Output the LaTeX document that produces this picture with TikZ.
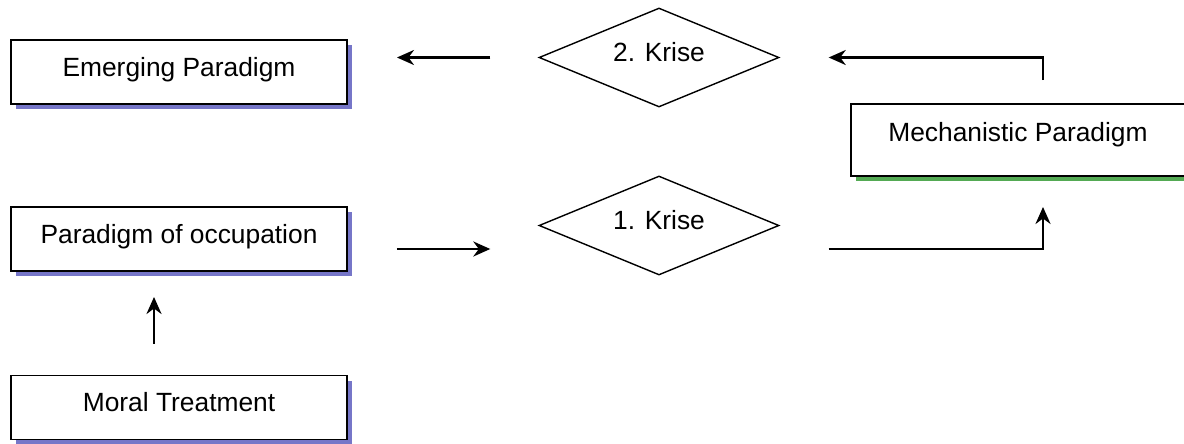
\documentclass[tikz,border=0pt]{standalone}
\usepackage{fontspec}
\setmainfont{Liberation Sans}
\usepackage{xcolor}
\usetikzlibrary{arrows.meta,shapes.geometric}

\definecolor{shadowblue}{RGB}{118,118,200}
\definecolor{shadowgreen}{RGB}{84,170,84}

\tikzset{
    paradigm/.style={draw, line width=1.1pt, fill=white, inner sep=0pt,
        minimum width=6.72cm, minimum height=1.28cm,
        text height=11pt, text depth=5.9pt},
    blueshadow/.style={preaction={fill=shadowblue, transform canvas={xshift=0.1cm, yshift=-0.1cm}}},
    greenshadow/.style={preaction={fill=shadowgreen, transform canvas={xshift=0.1cm, yshift=-0.1cm}}},
    krise/.style={draw, diamond, aspect=2.4, line width=0.8pt, inner sep=0pt,
        minimum width=4.8cm, minimum height=1.98cm,
        text height=11pt, text depth=5.9pt},
    arr/.style={-{Stealth[length=0.34cm, width=0.3cm]}, line width=1.5pt}
}

\begin{document}
\begin{tikzpicture}[font=\fontsize{15}{18}\selectfont]
            \useasboundingbox (0, 0) rectangle (23.68, -8.86);

            \node[paradigm, blueshadow] (emerging) at (3.58, -1.44) {Emerging Paradigm};
            \node[paradigm, blueshadow] (occupation) at (3.58, -4.78) {Paradigm of occupation};
            \node[paradigm, blueshadow] (moral) at (3.58, -8.15) {Moral Treatment};

            %the mechanistic box runs off the right edge
            \node[paradigm, greenshadow, minimum width=6.68cm, minimum height=1.44cm, text depth=9.8pt] (mechanistic) at (20.36, -2.8) {Mechanistic Paradigm};

            \node[krise] (krise2) at (13.18, -1.15) {2. Krise};
            \node[krise] (krise1) at (13.18, -4.51) {1. Krise};

            %arrows, all with a gap at both ends
            \draw[arr, shorten <=0.62cm, shorten >=0.5cm] ([xshift=-0.5cm]moral.north) -- ([xshift=-0.5cm]occupation.south);

            \draw[arr, shorten <=0.98cm, shorten >=0.96cm] ([yshift=-0.2cm]occupation.east) -- ([yshift=-0.2cm]occupation.east -| krise1.west);

            \draw[arr] ([xshift=0.98cm, yshift=-0.47cm]krise1.east) -| ([xshift=0.5cm, yshift=-0.6cm]mechanistic.south);

            \draw[arr] ([xshift=0.5cm, yshift=0.46cm]mechanistic.north) |- ([xshift=0.98cm]krise2.east);

            \draw[arr, shorten <=0.96cm, shorten >=0.98cm] (krise2.west) -- (krise2.west -| emerging.east);

        \end{tikzpicture}
\end{document}
